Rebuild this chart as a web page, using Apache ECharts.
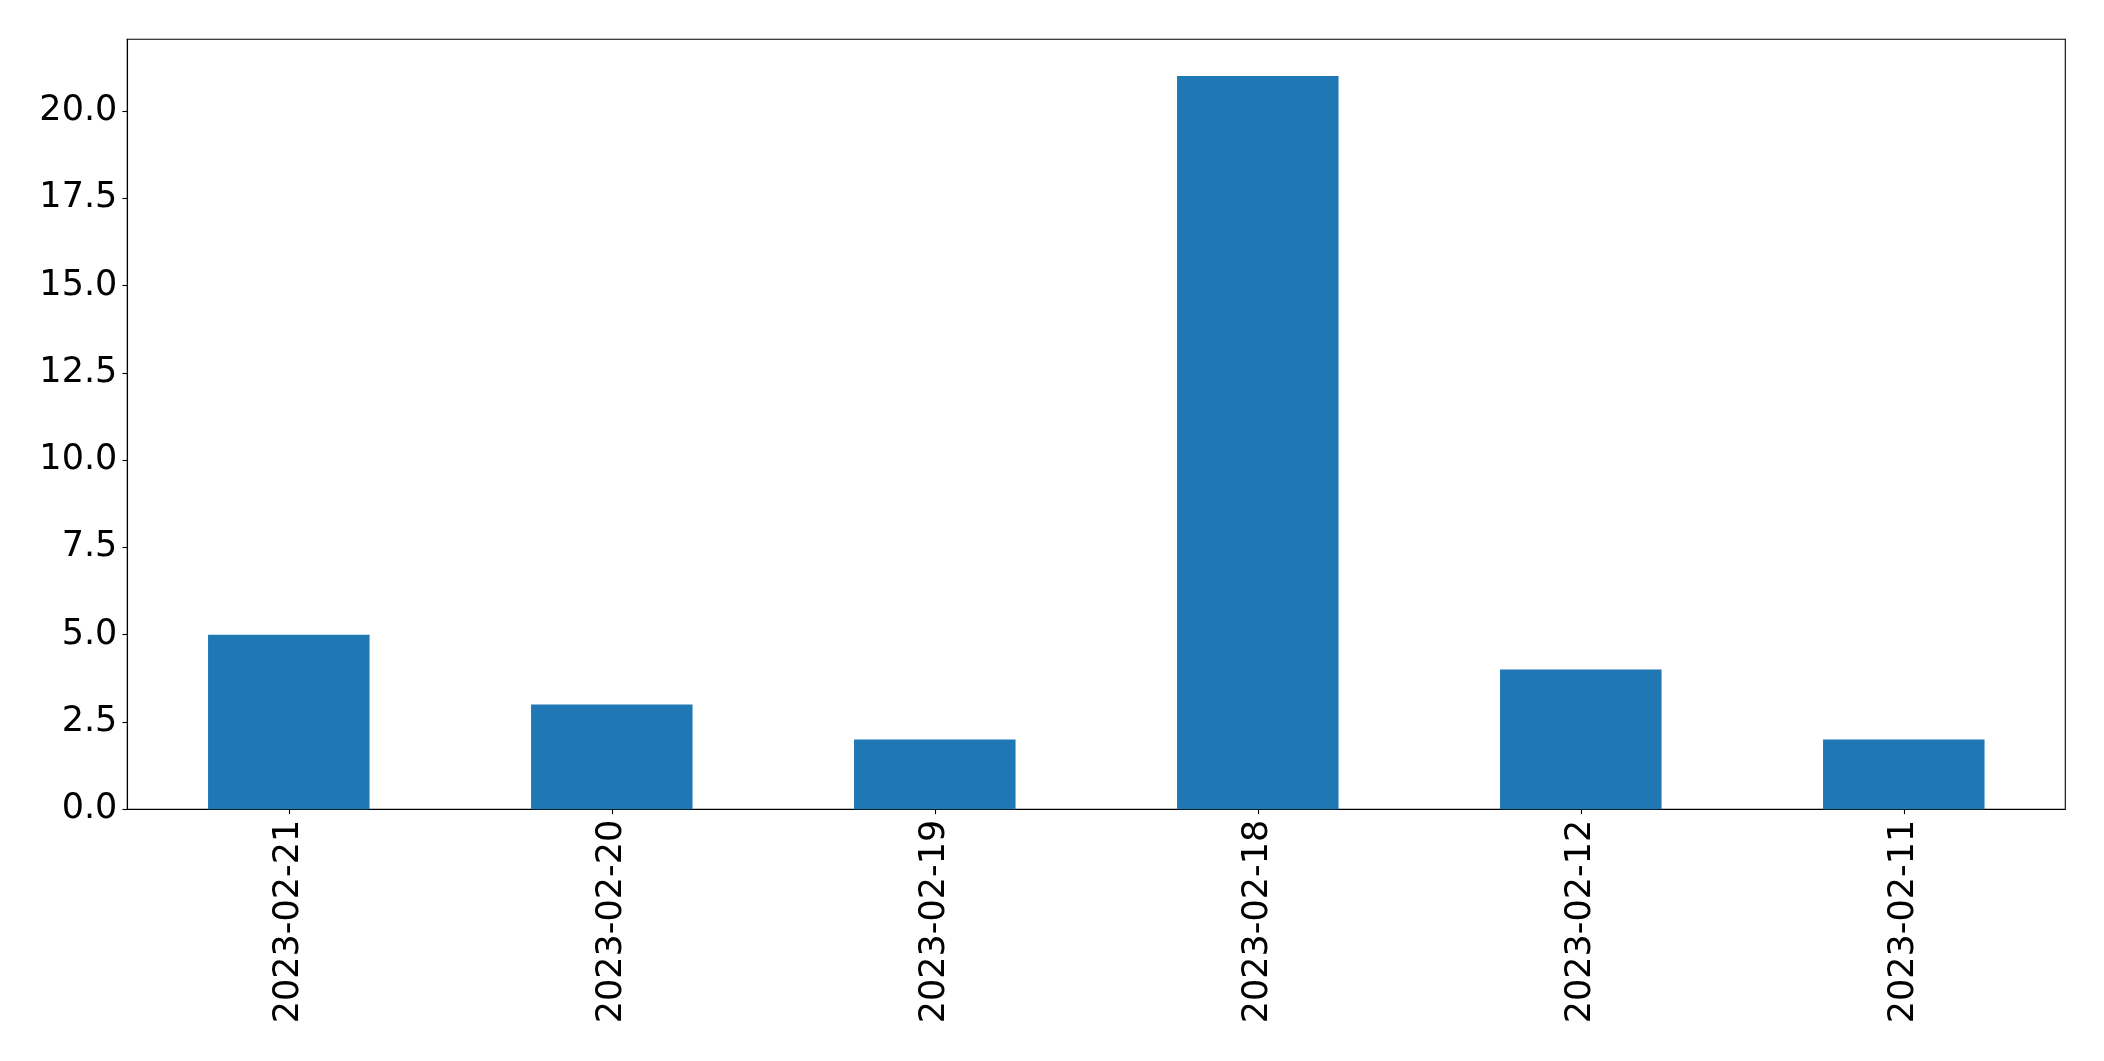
<!DOCTYPE html>
<html>
<head>
<meta charset="utf-8">
<script src="https://cdn.jsdelivr.net/npm/echarts@6/dist/echarts.min.js"></script>
<style>
html,body{margin:0;padding:0;background:#fff;}
#chart{width:2104px;height:1061px;}
</style>
</head>
<body>
<div id="chart"></div>
<script>
const categories = ['2023-02-21','2023-02-20','2023-02-19','2023-02-18','2023-02-12','2023-02-11'];
const values = [5, 3, 2, 21, 4, 2];
const yTicks = [0, 2.5, 5, 7.5, 10, 12.5, 15, 17.5, 20];

const chart = echarts.init(document.getElementById('chart'), null, {renderer: 'canvas'});
const font = 'DejaVu Sans';
chart.setOption({
  animation: false,
  grid: {
    left: 127.3, top: 39.3, width: 1938, height: 770,
    show: true, borderColor: '#000', borderWidth: 1.1, backgroundColor: 'transparent',
    containLabel: false
  },
  xAxis: {
    type: 'category',
    data: categories,
    boundaryGap: true,
    axisLine: {show: true, lineStyle: {color: '#000', width: 1.1}},
    axisTick: {show: true, alignWithLabel: true, length: 4.9, lineStyle: {color: '#000', width: 1.1}},
    axisLabel: {
      rotate: 90, margin: 10.5, color: '#000', fontFamily: font, fontSize: 35, interval: 0
    },
    splitLine: {show: false}
  },
  yAxis: {
    type: 'value',
    min: 0, max: 22.05,
    axisLine: {show: true, lineStyle: {color: '#000', width: 1.1}},
    axisTick: {show: true, length: 4.9, customValues: yTicks, lineStyle: {color: '#000', width: 1.1}},
    axisLabel: {
      margin: 10, color: '#000', fontFamily: font, fontSize: 35,
      customValues: yTicks,
      formatter: v => v.toFixed(1)
    },
    splitLine: {show: false}
  },
  series: [{
    type: 'bar',
    data: values,
    barWidth: '50%',
    itemStyle: {color: '#1f77b4'}
  }]
});
</script>
</body>
</html>
